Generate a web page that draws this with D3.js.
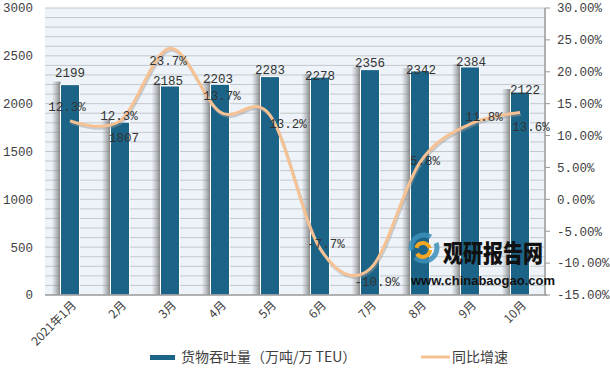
<!DOCTYPE html>
<html>
<head>
<meta charset="utf-8">
<script src="https://cdn.jsdelivr.net/npm/d3@7"></script>
<style>
  body { margin: 0; background: #fff; }
  text { font-family: "Liberation Mono", "DejaVu Sans Mono", monospace; }
  .cjk { font-family: "Noto Sans CJK SC", sans-serif; }
</style>
</head>
<body>
<div id="chart"></div>
<script>
const months = ["2021年1月", "2月", "3月", "4月", "5月", "6月", "7月", "8月", "9月", "10月"];
const throughput = [2199, 1807, 2185, 2203, 2283, 2278, 2356, 2342, 2384, 2122];
const growth = [12.3, 12.3, 23.7, 13.7, 13.2, -7.7, -10.9, 5.8, 11.8, 13.6];
const leftTicks = [0, 500, 1000, 1500, 2000, 2500, 3000];
const rightTicks = [-15, -10, -5, 0, 5, 10, 15, 20, 25, 30];
// label nudges (px) to mimic the hand-placed labels of the original
const barLabelNudge = [[0, -12], [4, 15], [-2, -5], [-2, -6], [0, -7], [0, -1], [0, -7], [1, -1], [1, -5], [5, -2]];
const pctLabelNudge = [[-3, -14], [-1, -5], [-2, 12], [2, -16], [18, 8], [6, -5], [7, 13], [5, -2], [14, -7], [11, 14]];

const margin = {top: 8, right: 65, bottom: 82, left: 45},
    W = 610, H = 377,
    width = W - margin.left - margin.right,
    height = H - margin.top - margin.bottom;

const root = d3.select("#chart").append("svg")
    .attr("width", W).attr("height", H);

const defs = root.append("defs");
const grad = defs.append("linearGradient").attr("id", "shadowGrad");
grad.append("stop").attr("offset", "0%").attr("stop-color", "#888").attr("stop-opacity", 0);
grad.append("stop").attr("offset", "100%").attr("stop-color", "#666").attr("stop-opacity", 0.8);

const svg = root.append("g")
    .attr("transform", `translate(${margin.left},${margin.top})`);

const x = d3.scaleBand().domain(months).range([0, width]).paddingInner(0).paddingOuter(0);
const y = d3.scaleLinear().domain([0, 3000]).range([height, 0]);
const y2 = d3.scaleLinear().domain([-15, 30]).range([height, 0]);

// background + grid
svg.append("rect").attr("width", width).attr("height", height).attr("fill", "#edf3f9");
svg.append("g").selectAll("line")
    .data(d3.range(100, 3001, 100))
    .join("line")
    .attr("x1", 0).attr("x2", width)
    .attr("y1", d => y(d)).attr("y2", d => y(d))
    .attr("stroke", "#c4c8cc").attr("stroke-width", 1);

// left axis labels
svg.append("g").selectAll("text")
    .data(leftTicks)
    .join("text")
    .attr("x", -12).attr("y", d => y(d))
    .attr("dy", "0.35em")
    .attr("text-anchor", "end")
    .attr("font-size", 12.5)
    .attr("fill", "#404040")
    .text(d => d);

// bars
const bw = x.bandwidth() * 0.38;
const bx = d => x(d) + (x.bandwidth() - bw) / 2;

svg.append("g").selectAll("rect")
    .data(months)
    .join("rect")
    .attr("x", d => bx(d) - 9)
    .attr("y", (d, i) => y(throughput[i]) - 3)
    .attr("width", 9)
    .attr("height", (d, i) => height - y(throughput[i]) + 3)
    .attr("fill", "url(#shadowGrad)");

svg.append("g").selectAll("rect")
    .data(months)
    .join("rect")
    .attr("x", d => bx(d))
    .attr("y", (d, i) => y(throughput[i]))
    .attr("width", bw)
    .attr("height", (d, i) => height - y(throughput[i]))
    .attr("fill", "#1b6487")
    .attr("stroke", "#fff").attr("stroke-width", 1);

// bottom axis line
svg.append("line")
    .attr("x1", 0).attr("x2", width + 2)
    .attr("y1", height).attr("y2", height)
    .attr("stroke", "#999").attr("stroke-width", 1.5);

// right axis
const rAxis = svg.append("g").attr("transform", `translate(${width},0)`);
rAxis.append("line").attr("y1", 0).attr("y2", height).attr("stroke", "#999").attr("stroke-width", 1.5);
rAxis.selectAll(".tk").data(rightTicks).join("line")
    .attr("x1", 0).attr("x2", 5)
    .attr("y1", d => y2(d)).attr("y2", d => y2(d))
    .attr("stroke", "#999");
rAxis.selectAll("text").data(rightTicks).join("text")
    .attr("x", 12).attr("y", d => y2(d))
    .attr("dy", "0.35em")
    .attr("font-size", 12.5)
    .attr("fill", "#404040")
    .text(d => d.toFixed(2) + "%");

// x labels
svg.append("g").selectAll("text")
    .data(months)
    .join("text")
    .attr("class", "cjk")
    .attr("transform", d => `translate(${x(d) + x.bandwidth() / 2 + 4},${height + 8}) rotate(-45)`)
    .attr("text-anchor", "end")
    .attr("dy", "0.35em")
    .attr("font-size", 12)
    .attr("fill", "#404040")
    .text(d => d);

// watermark
const wm = svg.append("g").attr("transform", `translate(${width - 135},${height - 62})`);
wm.append("circle").attr("cx", 14).attr("cy", 15).attr("r", 13).attr("fill", "none")
    .attr("stroke", "#3b8fb8").attr("stroke-width", 5).attr("stroke-dasharray", "30 8").attr("opacity", 0.85);
wm.append("circle").attr("cx", 13).attr("cy", 17).attr("r", 7).attr("fill", "none")
    .attr("stroke", "#f5a623").attr("stroke-width", 4).attr("stroke-dasharray", "18 6");
wm.append("text").attr("class", "cjk")
    .attr("transform", "translate(33,29) scale(1,1.2)")
    .attr("font-size", 20).attr("font-weight", 900).attr("fill", "#111")
    .style("font-family", "'Noto Sans CJK SC'").text("观研报告网");
wm.append("text").attr("x", 1).attr("y", 52)
    .attr("font-size", 13).attr("font-weight", "bold").attr("fill", "#111")
    .style("font-family", "'Liberation Sans Narrow', 'Liberation Sans', sans-serif")
    .text("www.chinabaogao.com");

// growth line
const cx = (d, i) => x(months[i]) + x.bandwidth() / 2;
const line = d3.line()
    .x((d, i) => cx(d, i))
    .y(d => y2(d))
    .curve(d3.curveCardinal.tension(0));

svg.append("path").datum(growth)
    .attr("d", line)
    .attr("transform", "translate(1,2)")
    .attr("fill", "none").attr("stroke", "#999").attr("stroke-opacity", 0.45).attr("stroke-width", 3);
svg.append("path").datum(growth)
    .attr("d", line)
    .attr("fill", "none").attr("stroke", "#f6c293").attr("stroke-width", 3);

// bar labels
svg.append("g").selectAll("text")
    .data(throughput)
    .join("text")
    .attr("x", (d, i) => cx(d, i) + barLabelNudge[i][0])
    .attr("y", (d, i) => y(d) + barLabelNudge[i][1])
    .attr("dy", "0.35em")
    .attr("text-anchor", "middle")
    .attr("font-size", 12.5)
    .attr("fill", "#333")
    .text(d => d);

// percent labels
svg.append("g").selectAll("text")
    .data(growth)
    .join("text")
    .attr("x", (d, i) => cx(d, i) + pctLabelNudge[i][0])
    .attr("y", (d, i) => y2(d) + pctLabelNudge[i][1])
    .attr("dy", "0.35em")
    .attr("text-anchor", "middle")
    .attr("font-size", 12.5)
    .attr("fill", "#333")
    .text(d => d.toFixed(1) + "%");

// legend
const lg = root.append("g").attr("transform", `translate(150,357)`);
lg.append("rect").attr("x", 0).attr("y", -2).attr("width", 25).attr("height", 5).attr("fill", "#1b6487");
lg.append("text").attr("class", "cjk").attr("x", 31).attr("y", 0).attr("dy", "0.35em")
    .attr("font-size", 14).attr("fill", "#404040").text("货物吞吐量（万吨/万 TEU）");
lg.append("line").attr("x1", 271).attr("x2", 300).attr("y1", 0).attr("y2", 0)
    .attr("stroke", "#f6c293").attr("stroke-width", 3);
lg.append("text").attr("class", "cjk").attr("x", 302).attr("y", 0).attr("dy", "0.35em")
    .attr("font-size", 14).attr("fill", "#404040").text("同比增速");
</script>
</body>
</html>
